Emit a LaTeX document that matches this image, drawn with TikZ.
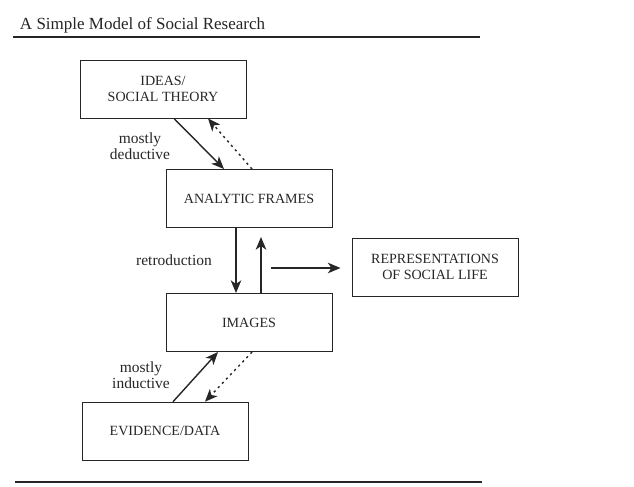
\documentclass[tikz,border=0pt]{standalone}
\usepackage{fontspec}
\setmainfont{Liberation Serif}
\usetikzlibrary{arrows.meta}

\tikzset{
  fwd/.style={-{Stealth[length=9pt,width=7.5pt,inset=2.5pt]}, line width=1pt},
  back/.style={fwd, dash pattern=on 1.6pt off 2.6pt},
  tag/.style={align=center, font=\fontsize{11}{11.5}\selectfont},
  rule/.style={line width=1.1pt}
}

\begin{document}
\begin{tikzpicture}[color=black!85]

      \useasboundingbox (0,0) rectangle (15.85,-12.15);

      \node[anchor=base west, font=\fontsize{12.1}{14}\selectfont] (title) at (0.375,-0.725) {A Simple Model of Social Research};
      \draw[rule] (0.325,-0.925) -- (12,-0.925);
      \draw[rule] (0.375,-12.05) -- (12.05,-12.05);

      \begin{scope}[every node/.style={draw, line width=.7pt, minimum width=4.15cm, minimum height=1.45cm,
          inner sep=0pt, align=center, font=\fontsize{10}{11.5}\selectfont}]
        \node (ideas)    at (4.075,-2.225)  {IDEAS/\\SOCIAL THEORY};
        \node (frames)   at (6.225,-4.9625) {ANALYTIC FRAMES};
        \node (reps)     at (10.875,-6.675) {REPRESENTATIONS\\OF SOCIAL LIFE};
        \node (images)   at (6.225,-8.0625) {IMAGES};
        \node (evidence) at (4.125,-10.78)  {EVIDENCE/DATA};
      \end{scope}

      \coordinate (fork) at (6.775,-6.7);

      \begin{scope}[every node/.style={tag}]
        \node (ded)   at (3.5,-3.65)   {mostly\\deductive};
        \node (retro) at (4.35,-6.5)   {retroduction};
        \node (ind)   at (3.525,-9.375) {mostly\\inductive};
      \end{scope}

      \draw[fwd]  ([xshift=.275cm]ideas.south) -- ([xshift=-.625cm]frames.north);
      \draw[back] ([xshift=.075cm]frames.north) -- ([xshift=1.125cm]ideas.south);
      \draw[fwd]  ([xshift=-.325cm]frames.south) -- ([xshift=-.325cm]images.north);
      \draw[fwd, shorten >=.225cm] ([xshift=.3cm]images.north) -- ([xshift=.3cm]frames.south);
      \draw[fwd, shorten >=.275cm] (fork) -- (fork -| reps.west);
      \draw[fwd]  ([xshift=.2cm]evidence.north) -- ([xshift=-.775cm]images.south);
      \draw[back] ([xshift=.075cm]images.south) -- ([xshift=1cm]evidence.north);

    \end{tikzpicture}
\end{document}
